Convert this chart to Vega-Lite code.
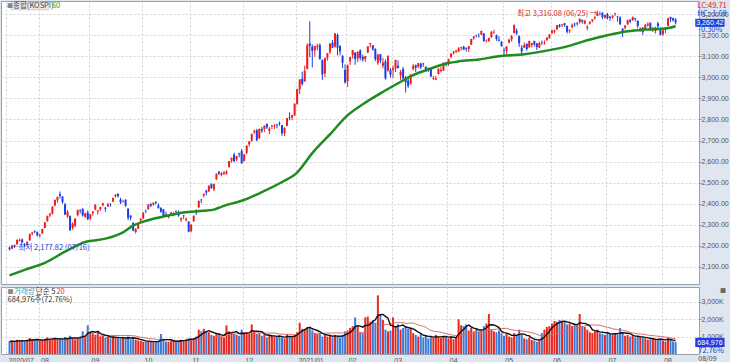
{
"$schema":"https://vega.github.io/schema/vega-lite/v6.json",
"padding":0,
"spacing":1,
"datasets":{
"k":[
{"d":"2020-07-16","i":0,"o":2192,"h":2196,"l":2177.82,"c":2183.8,"v":720000},
{"d":"2020-07-17","i":1,"o":2187,"h":2205,"l":2184,"c":2201.2,"v":750000},
{"d":"2020-07-20","i":2,"o":2203,"h":2206,"l":2190,"c":2198.2,"v":700000},
{"d":"2020-07-21","i":3,"o":2207,"h":2230,"l":2205,"c":2228.7,"v":820000},
{"d":"2020-07-22","i":4,"o":2225,"h":2234,"l":2220,"c":2228.3,"v":780000},
{"d":"2020-07-23","i":5,"o":2230,"h":2235,"l":2212,"c":2216.2,"v":740000},
{"d":"2020-07-24","i":6,"o":2206,"h":2212,"l":2195,"c":2200.4,"v":720000},
{"d":"2020-07-27","i":7,"o":2203,"h":2221,"l":2200,"c":2217.9,"v":800000},
{"d":"2020-07-28","i":8,"o":2226,"h":2258,"l":2224,"c":2256.0,"v":920000},
{"d":"2020-07-29","i":9,"o":2258,"h":2266,"l":2250,"c":2263.2,"v":850000},
{"d":"2020-07-30","i":10,"o":2270,"h":2274,"l":2260,"c":2267.0,"v":800000},
{"d":"2020-07-31","i":11,"o":2265,"h":2268,"l":2244,"c":2249.4,"v":780000},
{"d":"2020-08-03","i":12,"o":2247,"h":2258,"l":2240,"c":2251.0,"v":750000},
{"d":"2020-08-04","i":13,"o":2259,"h":2281,"l":2256,"c":2279.9,"v":820000},
{"d":"2020-08-05","i":14,"o":2285,"h":2312,"l":2283,"c":2311.9,"v":880000},
{"d":"2020-08-06","i":15,"o":2317,"h":2343,"l":2315,"c":2342.6,"v":950000},
{"d":"2020-08-07","i":16,"o":2345,"h":2358,"l":2336,"c":2351.7,"v":860000},
{"d":"2020-08-10","i":17,"o":2353,"h":2387,"l":2349,"c":2386.4,"v":850000},
{"d":"2020-08-11","i":18,"o":2392,"h":2419,"l":2388,"c":2418.7,"v":900000},
{"d":"2020-08-12","i":19,"o":2417,"h":2433,"l":2405,"c":2432.4,"v":820000},
{"d":"2020-08-13","i":20,"o":2445,"h":2458,"l":2425,"c":2437.5,"v":920000},
{"d":"2020-08-14","i":21,"o":2434,"h":2435,"l":2400,"c":2407.5,"v":800000},
{"d":"2020-08-18","i":22,"o":2397,"h":2404,"l":2346,"c":2348.2,"v":980000},
{"d":"2020-08-19","i":23,"o":2339,"h":2370,"l":2333,"c":2360.5,"v":850000},
{"d":"2020-08-20","i":24,"o":2341,"h":2345,"l":2270,"c":2274.2,"v":1050000},
{"d":"2020-08-21","i":25,"o":2286,"h":2311,"l":2276,"c":2304.6,"v":900000},
{"d":"2020-08-24","i":26,"o":2296,"h":2330,"l":2288,"c":2329.8,"v":820000},
{"d":"2020-08-25","i":27,"o":2346,"h":2372,"l":2340,"c":2369.4,"v":950000},
{"d":"2020-08-26","i":28,"o":2369,"h":2374,"l":2353,"c":2366.7,"v":1000000},
{"d":"2020-08-27","i":29,"o":2374,"h":2380,"l":2339,"c":2344.5,"v":1300000},
{"d":"2020-08-28","i":30,"o":2338,"h":2357,"l":2333,"c":2353.8,"v":1050000},
{"d":"2020-08-31","i":31,"o":2359,"h":2368,"l":2322,"c":2326.2,"v":1650000},
{"d":"2020-09-01","i":32,"o":2330,"h":2350,"l":2320,"c":2349.6,"v":1250000},
{"d":"2020-09-02","i":33,"o":2355,"h":2365,"l":2343,"c":2363.2,"v":1200000},
{"d":"2020-09-03","i":34,"o":2372,"h":2396,"l":2369,"c":2395.9,"v":1100000},
{"d":"2020-09-04","i":35,"o":2363,"h":2370,"l":2348,"c":2368.3,"v":1300000},
{"d":"2020-09-07","i":36,"o":2373,"h":2386,"l":2366,"c":2384.5,"v":1000000},
{"d":"2020-09-08","i":37,"o":2393,"h":2404,"l":2387,"c":2401.9,"v":1050000},
{"d":"2020-09-09","i":38,"o":2381,"h":2384,"l":2362,"c":2375.8,"v":950000},
{"d":"2020-09-10","i":39,"o":2387,"h":2404,"l":2384,"c":2396.5,"v":1000000},
{"d":"2020-09-11","i":40,"o":2399,"h":2402,"l":2385,"c":2396.5,"v":900000},
{"d":"2020-09-14","i":41,"o":2410,"h":2428,"l":2408,"c":2427.7,"v":1000000},
{"d":"2020-09-15","i":42,"o":2435,"h":2444,"l":2430,"c":2443.6,"v":950000},
{"d":"2020-09-16","i":43,"o":2447,"h":2449,"l":2429,"c":2435.9,"v":920000},
{"d":"2020-09-17","i":44,"o":2420,"h":2428,"l":2398,"c":2406.8,"v":880000},
{"d":"2020-09-18","i":45,"o":2411,"h":2419,"l":2405,"c":2412.4,"v":950000},
{"d":"2020-09-21","i":46,"o":2418,"h":2422,"l":2386,"c":2389.4,"v":900000},
{"d":"2020-09-22","i":47,"o":2376,"h":2379,"l":2322,"c":2333.2,"v":1000000},
{"d":"2020-09-23","i":48,"o":2344,"h":2345,"l":2321,"c":2333.0,"v":850000},
{"d":"2020-09-24","i":49,"o":2309,"h":2312,"l":2269,"c":2272.7,"v":950000},
{"d":"2020-09-25","i":50,"o":2266,"h":2284,"l":2258,"c":2278.8,"v":820000},
{"d":"2020-09-28","i":51,"o":2282,"h":2311,"l":2280,"c":2308.1,"v":780000},
{"d":"2020-09-29","i":52,"o":2320,"h":2331,"l":2310,"c":2327.9,"v":750000},
{"d":"2020-10-05","i":53,"o":2330,"h":2359,"l":2328,"c":2358.0,"v":700000},
{"d":"2020-10-06","i":54,"o":2368,"h":2372,"l":2355,"c":2365.9,"v":720000},
{"d":"2020-10-07","i":55,"o":2374,"h":2398,"l":2371,"c":2395.9,"v":750000},
{"d":"2020-10-08","i":56,"o":2399,"h":2402,"l":2384,"c":2391.0,"v":700000},
{"d":"2020-10-12","i":57,"o":2396,"h":2408,"l":2391,"c":2403.2,"v":680000},
{"d":"2020-10-13","i":58,"o":2408,"h":2412,"l":2396,"c":2403.7,"v":720000},
{"d":"2020-10-14","i":59,"o":2392,"h":2401,"l":2376,"c":2380.5,"v":750000},
{"d":"2020-10-15","i":60,"o":2379,"h":2384,"l":2358,"c":2361.2,"v":1150000},
{"d":"2020-10-16","i":61,"o":2373,"h":2374,"l":2340,"c":2341.5,"v":800000},
{"d":"2020-10-19","i":62,"o":2350,"h":2362,"l":2342,"c":2346.7,"v":720000},
{"d":"2020-10-20","i":63,"o":2336,"h":2350,"l":2330,"c":2341.4,"v":700000},
{"d":"2020-10-21","i":64,"o":2349,"h":2360,"l":2345,"c":2358.4,"v":740000},
{"d":"2020-10-22","i":65,"o":2350,"h":2360,"l":2340,"c":2355.1,"v":780000},
{"d":"2020-10-23","i":66,"o":2365,"h":2367,"l":2351,"c":2360.8,"v":700000},
{"d":"2020-10-26","i":67,"o":2360,"h":2368,"l":2338,"c":2343.9,"v":750000},
{"d":"2020-10-27","i":68,"o":2324,"h":2336,"l":2313,"c":2330.8,"v":820000},
{"d":"2020-10-28","i":69,"o":2340,"h":2346,"l":2327,"c":2345.3,"v":780000},
{"d":"2020-10-29","i":70,"o":2322,"h":2336,"l":2315,"c":2326.7,"v":850000},
{"d":"2020-10-30","i":71,"o":2315,"h":2316,"l":2264,"c":2267.2,"v":900000},
{"d":"2020-11-02","i":72,"o":2270,"h":2303,"l":2264,"c":2300.2,"v":880000},
{"d":"2020-11-03","i":73,"o":2318,"h":2343,"l":2313,"c":2343.3,"v":900000},
{"d":"2020-11-04","i":74,"o":2365,"h":2374,"l":2346,"c":2357.3,"v":1000000},
{"d":"2020-11-05","i":75,"o":2383,"h":2414,"l":2379,"c":2413.8,"v":1400000},
{"d":"2020-11-06","i":76,"o":2419,"h":2423,"l":2402,"c":2416.5,"v":1300000},
{"d":"2020-11-09","i":77,"o":2439,"h":2448,"l":2430,"c":2447.2,"v":1450000},
{"d":"2020-11-10","i":78,"o":2462,"h":2466,"l":2440,"c":2452.8,"v":1300000},
{"d":"2020-11-11","i":79,"o":2459,"h":2486,"l":2455,"c":2485.9,"v":1250000},
{"d":"2020-11-12","i":80,"o":2493,"h":2497,"l":2470,"c":2475.6,"v":1100000},
{"d":"2020-11-13","i":81,"o":2468,"h":2494,"l":2460,"c":2493.9,"v":1050000},
{"d":"2020-11-16","i":82,"o":2516,"h":2543,"l":2513,"c":2543.0,"v":1200000},
{"d":"2020-11-17","i":83,"o":2553,"h":2554,"l":2535,"c":2543.0,"v":1150000},
{"d":"2020-11-18","i":84,"o":2537,"h":2550,"l":2530,"c":2545.6,"v":1000000},
{"d":"2020-11-19","i":85,"o":2541,"h":2556,"l":2536,"c":2547.4,"v":950000},
{"d":"2020-11-20","i":86,"o":2542,"h":2558,"l":2539,"c":2553.5,"v":1650000},
{"d":"2020-11-23","i":87,"o":2575,"h":2603,"l":2570,"c":2602.6,"v":1300000},
{"d":"2020-11-24","i":88,"o":2604,"h":2619,"l":2595,"c":2617.8,"v":1250000},
{"d":"2020-11-25","i":89,"o":2633,"h":2642,"l":2597,"c":2601.5,"v":1150000},
{"d":"2020-11-26","i":90,"o":2610,"h":2627,"l":2602,"c":2625.9,"v":1100000},
{"d":"2020-11-27","i":91,"o":2638,"h":2642,"l":2620,"c":2633.5,"v":1050000},
{"d":"2020-11-30","i":92,"o":2650,"h":2660,"l":2591,"c":2591.3,"v":1400000},
{"d":"2020-12-01","i":93,"o":2603,"h":2635,"l":2600,"c":2634.3,"v":1200000},
{"d":"2020-12-02","i":94,"o":2642,"h":2676,"l":2634,"c":2675.9,"v":1250000},
{"d":"2020-12-03","i":95,"o":2682,"h":2697,"l":2671,"c":2696.2,"v":1150000},
{"d":"2020-12-04","i":96,"o":2699,"h":2732,"l":2695,"c":2731.5,"v":1700000},
{"d":"2020-12-07","i":97,"o":2740,"h":2752,"l":2731,"c":2745.4,"v":1300000},
{"d":"2020-12-08","i":98,"o":2749,"h":2755,"l":2697,"c":2700.9,"v":1150000},
{"d":"2020-12-09","i":99,"o":2711,"h":2756,"l":2707,"c":2755.5,"v":1200000},
{"d":"2020-12-10","i":100,"o":2755,"h":2764,"l":2736,"c":2746.0,"v":1050000},
{"d":"2020-12-11","i":101,"o":2755,"h":2772,"l":2740,"c":2770.1,"v":1100000},
{"d":"2020-12-14","i":102,"o":2779,"h":2781,"l":2755,"c":2762.2,"v":950000},
{"d":"2020-12-15","i":103,"o":2746,"h":2764,"l":2730,"c":2756.8,"v":1100000},
{"d":"2020-12-16","i":104,"o":2768,"h":2773,"l":2755,"c":2771.8,"v":1050000},
{"d":"2020-12-17","i":105,"o":2767,"h":2778,"l":2755,"c":2770.4,"v":1000000},
{"d":"2020-12-18","i":106,"o":2776,"h":2779,"l":2758,"c":2772.2,"v":950000},
{"d":"2020-12-21","i":107,"o":2782,"h":2790,"l":2770,"c":2778.6,"v":1050000},
{"d":"2020-12-22","i":108,"o":2773,"h":2774,"l":2722,"c":2733.7,"v":950000},
{"d":"2020-12-23","i":109,"o":2736,"h":2763,"l":2721,"c":2759.8,"v":900000},
{"d":"2020-12-24","i":110,"o":2770,"h":2807,"l":2768,"c":2806.9,"v":1150000},
{"d":"2020-12-28","i":111,"o":2812,"h":2834,"l":2796,"c":2808.6,"v":1000000},
{"d":"2020-12-29","i":112,"o":2810,"h":2822,"l":2797,"c":2820.5,"v":950000},
{"d":"2020-12-30","i":113,"o":2820,"h":2878,"l":2817,"c":2873.5,"v":1100000},
{"d":"2021-01-04","i":114,"o":2874,"h":2946,"l":2869,"c":2944.5,"v":1250000},
{"d":"2021-01-05","i":115,"o":2943,"h":2990,"l":2921,"c":2990.6,"v":1800000},
{"d":"2021-01-06","i":116,"o":2993,"h":3027,"l":2961,"c":2968.2,"v":1450000},
{"d":"2021-01-07","i":117,"o":2980,"h":3055,"l":2980,"c":3031.7,"v":1400000},
{"d":"2021-01-08","i":118,"o":3040,"h":3161,"l":3038,"c":3152.2,"v":1550000},
{"d":"2021-01-11","i":119,"o":3161,"h":3266,"l":3096,"c":3148.5,"v":1500000},
{"d":"2021-01-12","i":120,"o":3146,"h":3157,"l":3047,"c":3125.9,"v":1350000},
{"d":"2021-01-13","i":121,"o":3128,"h":3150,"l":3098,"c":3148.3,"v":1200000},
{"d":"2021-01-14","i":122,"o":3145,"h":3159,"l":3128,"c":3149.9,"v":1150000},
{"d":"2021-01-15","i":123,"o":3153,"h":3162,"l":3085,"c":3085.9,"v":1200000},
{"d":"2021-01-18","i":124,"o":3081,"h":3086,"l":2988,"c":3013.9,"v":1000000},
{"d":"2021-01-19","i":125,"o":3019,"h":3093,"l":3001,"c":3092.7,"v":1100000},
{"d":"2021-01-20","i":126,"o":3091,"h":3115,"l":3079,"c":3114.6,"v":1000000},
{"d":"2021-01-21","i":127,"o":3119,"h":3161,"l":3111,"c":3160.8,"v":1050000},
{"d":"2021-01-22","i":128,"o":3165,"h":3177,"l":3140,"c":3140.6,"v":950000},
{"d":"2021-01-25","i":129,"o":3146,"h":3209,"l":3141,"c":3208.9,"v":1100000},
{"d":"2021-01-26","i":130,"o":3201,"h":3209,"l":3104,"c":3140.3,"v":1050000},
{"d":"2021-01-27","i":131,"o":3148,"h":3153,"l":3104,"c":3122.6,"v":950000},
{"d":"2021-01-28","i":132,"o":3101,"h":3106,"l":3045,"c":3069.1,"v":1100000},
{"d":"2021-01-29","i":133,"o":3035,"h":3062,"l":2970,"c":2976.2,"v":1300000},
{"d":"2021-02-01","i":134,"o":2982,"h":3062,"l":2955,"c":3056.5,"v":1350000},
{"d":"2021-02-02","i":135,"o":3076,"h":3097,"l":3059,"c":3096.8,"v":1500000},
{"d":"2021-02-03","i":136,"o":3106,"h":3130,"l":3089,"c":3129.7,"v":1600000},
{"d":"2021-02-04","i":137,"o":3117,"h":3120,"l":3060,"c":3087.6,"v":2100000},
{"d":"2021-02-05","i":138,"o":3089,"h":3124,"l":3072,"c":3120.6,"v":1550000},
{"d":"2021-02-08","i":139,"o":3128,"h":3133,"l":3080,"c":3092.7,"v":1250000},
{"d":"2021-02-09","i":140,"o":3097,"h":3108,"l":3075,"c":3084.7,"v":1200000},
{"d":"2021-02-10","i":141,"o":3087,"h":3101,"l":3073,"c":3100.6,"v":2100000},
{"d":"2021-02-15","i":142,"o":3118,"h":3147,"l":3115,"c":3147.0,"v":2150000},
{"d":"2021-02-16","i":143,"o":3158,"h":3164,"l":3142,"c":3163.3,"v":1850000},
{"d":"2021-02-17","i":144,"o":3152,"h":3153,"l":3126,"c":3133.7,"v":1950000},
{"d":"2021-02-18","i":145,"o":3135,"h":3138,"l":3077,"c":3086.7,"v":1800000},
{"d":"2021-02-19","i":146,"o":3069,"h":3112,"l":3059,"c":3107.6,"v":3370000},
{"d":"2021-02-22","i":147,"o":3110,"h":3111,"l":3067,"c":3079.8,"v":2300000},
{"d":"2021-02-23","i":148,"o":3055,"h":3092,"l":3043,"c":3070.1,"v":1950000},
{"d":"2021-02-24","i":149,"o":3075,"h":3085,"l":2989,"c":2994.9,"v":1400000},
{"d":"2021-02-25","i":150,"o":3032,"h":3105,"l":3027,"c":3099.7,"v":1300000},
{"d":"2021-02-26","i":151,"o":3035,"h":3044,"l":2999,"c":3012.9,"v":1350000},
{"d":"2021-03-02","i":152,"o":3035,"h":3056,"l":2998,"c":3043.5,"v":2100000},
{"d":"2021-03-03","i":153,"o":3042,"h":3083,"l":3025,"c":3082.9,"v":1600000},
{"d":"2021-03-04","i":154,"o":3055,"h":3081,"l":3043,"c":3043.9,"v":1700000},
{"d":"2021-03-05","i":155,"o":3009,"h":3035,"l":2988,"c":3026.3,"v":1400000},
{"d":"2021-03-08","i":156,"o":3040,"h":3049,"l":2990,"c":2996.1,"v":1500000},
{"d":"2021-03-09","i":157,"o":2999,"h":3007,"l":2928,"c":2976.1,"v":1550000},
{"d":"2021-03-10","i":158,"o":2985,"h":2998,"l":2950,"c":2958.1,"v":1450000},
{"d":"2021-03-11","i":159,"o":2970,"h":3014,"l":2965,"c":3013.7,"v":1500000},
{"d":"2021-03-12","i":160,"o":3040,"h":3064,"l":3033,"c":3054.4,"v":1200000},
{"d":"2021-03-15","i":161,"o":3057,"h":3061,"l":3025,"c":3045.7,"v":1100000},
{"d":"2021-03-16","i":162,"o":3051,"h":3067,"l":3044,"c":3067.2,"v":1000000},
{"d":"2021-03-17","i":163,"o":3065,"h":3070,"l":3040,"c":3047.5,"v":1150000},
{"d":"2021-03-18","i":164,"o":3068,"h":3069,"l":3050,"c":3066.0,"v":950000},
{"d":"2021-03-19","i":165,"o":3048,"h":3054,"l":3026,"c":3039.5,"v":1050000},
{"d":"2021-03-22","i":166,"o":3042,"h":3046,"l":3026,"c":3035.5,"v":900000},
{"d":"2021-03-23","i":167,"o":3043,"h":3045,"l":3002,"c":3004.7,"v":1000000},
{"d":"2021-03-24","i":168,"o":2992,"h":3007,"l":2988,"c":2996.4,"v":950000},
{"d":"2021-03-25","i":169,"o":2989,"h":3007,"l":2987,"c":2995.0,"v":1100000},
{"d":"2021-03-26","i":170,"o":3016,"h":3042,"l":3013,"c":3041.0,"v":980000},
{"d":"2021-03-29","i":171,"o":3030,"h":3050,"l":3024,"c":3036.0,"v":920000},
{"d":"2021-03-30","i":172,"o":3032,"h":3070,"l":3030,"c":3070.0,"v":1050000},
{"d":"2021-03-31","i":173,"o":3065,"h":3074,"l":3052,"c":3061.4,"v":1000000},
{"d":"2021-04-01","i":174,"o":3064,"h":3088,"l":3055,"c":3087.4,"v":900000},
{"d":"2021-04-02","i":175,"o":3097,"h":3113,"l":3090,"c":3112.8,"v":1000000},
{"d":"2021-04-05","i":176,"o":3115,"h":3126,"l":3108,"c":3120.8,"v":850000},
{"d":"2021-04-06","i":177,"o":3122,"h":3131,"l":3115,"c":3127.1,"v":950000},
{"d":"2021-04-07","i":178,"o":3122,"h":3144,"l":3120,"c":3137.4,"v":2000000},
{"d":"2021-04-08","i":179,"o":3139,"h":3145,"l":3128,"c":3143.3,"v":1650000},
{"d":"2021-04-09","i":180,"o":3146,"h":3150,"l":3130,"c":3131.9,"v":1600000},
{"d":"2021-04-12","i":181,"o":3140,"h":3142,"l":3122,"c":3135.6,"v":1700000},
{"d":"2021-04-13","i":182,"o":3134,"h":3149,"l":3120,"c":3148.3,"v":1350000},
{"d":"2021-04-14","i":183,"o":3156,"h":3183,"l":3153,"c":3182.4,"v":1500000},
{"d":"2021-04-15","i":184,"o":3186,"h":3195,"l":3178,"c":3194.3,"v":1300000},
{"d":"2021-04-16","i":185,"o":3200,"h":3203,"l":3190,"c":3198.8,"v":1450000},
{"d":"2021-04-19","i":186,"o":3199,"h":3209,"l":3189,"c":3198.2,"v":1300000},
{"d":"2021-04-20","i":187,"o":3203,"h":3222,"l":3200,"c":3220.7,"v":1350000},
{"d":"2021-04-21","i":188,"o":3208,"h":3211,"l":3170,"c":3171.7,"v":1600000},
{"d":"2021-04-22","i":189,"o":3176,"h":3180,"l":3165,"c":3177.5,"v":1750000},
{"d":"2021-04-23","i":190,"o":3173,"h":3189,"l":3168,"c":3186.1,"v":2300000},
{"d":"2021-04-26","i":191,"o":3191,"h":3218,"l":3187,"c":3217.5,"v":1400000},
{"d":"2021-04-27","i":192,"o":3213,"h":3226,"l":3207,"c":3215.4,"v":1300000},
{"d":"2021-04-28","i":193,"o":3200,"h":3203,"l":3173,"c":3181.5,"v":1250000},
{"d":"2021-04-29","i":194,"o":3179,"h":3195,"l":3170,"c":3174.1,"v":1350000},
{"d":"2021-04-30","i":195,"o":3168,"h":3173,"l":3147,"c":3147.9,"v":1200000},
{"d":"2021-05-03","i":196,"o":3130,"h":3141,"l":3106,"c":3127.2,"v":1050000},
{"d":"2021-05-04","i":197,"o":3125,"h":3148,"l":3110,"c":3147.4,"v":1150000},
{"d":"2021-05-06","i":198,"o":3165,"h":3183,"l":3162,"c":3178.7,"v":1000000},
{"d":"2021-05-07","i":199,"o":3180,"h":3200,"l":3170,"c":3197.2,"v":950000},
{"d":"2021-05-10","i":200,"o":3211,"h":3250,"l":3208,"c":3249.3,"v":1200000},
{"d":"2021-05-11","i":201,"o":3221,"h":3232,"l":3200,"c":3209.4,"v":1100000},
{"d":"2021-05-12","i":202,"o":3195,"h":3200,"l":3145,"c":3161.7,"v":1400000},
{"d":"2021-05-13","i":203,"o":3141,"h":3153,"l":3103,"c":3122.1,"v":1100000},
{"d":"2021-05-14","i":204,"o":3141,"h":3166,"l":3140,"c":3153.3,"v":900000},
{"d":"2021-05-17","i":205,"o":3160,"h":3160,"l":3126,"c":3134.5,"v":850000},
{"d":"2021-05-18","i":206,"o":3143,"h":3174,"l":3140,"c":3173.1,"v":950000},
{"d":"2021-05-20","i":207,"o":3154,"h":3164,"l":3142,"c":3162.3,"v":800000},
{"d":"2021-05-21","i":208,"o":3173,"h":3174,"l":3147,"c":3156.4,"v":780000},
{"d":"2021-05-24","i":209,"o":3162,"h":3163,"l":3130,"c":3144.3,"v":700000},
{"d":"2021-05-25","i":210,"o":3141,"h":3169,"l":3138,"c":3162.3,"v":820000},
{"d":"2021-05-26","i":211,"o":3167,"h":3175,"l":3153,"c":3165.5,"v":1200000},
{"d":"2021-05-27","i":212,"o":3161,"h":3176,"l":3155,"c":3165.2,"v":1400000},
{"d":"2021-05-28","i":213,"o":3178,"h":3191,"l":3172,"c":3188.7,"v":1550000},
{"d":"2021-05-31","i":214,"o":3187,"h":3206,"l":3183,"c":3203.9,"v":1600000},
{"d":"2021-06-01","i":215,"o":3211,"h":3227,"l":3206,"c":3221.8,"v":1750000},
{"d":"2021-06-02","i":216,"o":3218,"h":3226,"l":3209,"c":3224.2,"v":1900000},
{"d":"2021-06-03","i":217,"o":3229,"h":3249,"l":3224,"c":3247.4,"v":1850000},
{"d":"2021-06-04","i":218,"o":3249,"h":3253,"l":3236,"c":3240.1,"v":1950000},
{"d":"2021-06-07","i":219,"o":3248,"h":3253,"l":3238,"c":3252.1,"v":1900000},
{"d":"2021-06-08","i":220,"o":3257,"h":3258,"l":3240,"c":3247.8,"v":1800000},
{"d":"2021-06-09","i":221,"o":3245,"h":3245,"l":3208,"c":3216.2,"v":1700000},
{"d":"2021-06-10","i":222,"o":3220,"h":3228,"l":3210,"c":3224.0,"v":1750000},
{"d":"2021-06-11","i":223,"o":3239,"h":3255,"l":3232,"c":3249.3,"v":1600000},
{"d":"2021-06-14","i":224,"o":3255,"h":3259,"l":3240,"c":3252.1,"v":1700000},
{"d":"2021-06-15","i":225,"o":3257,"h":3263,"l":3246,"c":3254.4,"v":1650000},
{"d":"2021-06-16","i":226,"o":3262,"h":3279,"l":3256,"c":3278.7,"v":2300000},
{"d":"2021-06-17","i":227,"o":3272,"h":3275,"l":3255,"c":3264.9,"v":1600000},
{"d":"2021-06-18","i":228,"o":3255,"h":3273,"l":3252,"c":3267.9,"v":1550000},
{"d":"2021-06-21","i":229,"o":3235,"h":3249,"l":3224,"c":3240.8,"v":1400000},
{"d":"2021-06-22","i":230,"o":3255,"h":3265,"l":3250,"c":3263.9,"v":1250000},
{"d":"2021-06-23","i":231,"o":3269,"h":3277,"l":3261,"c":3276.2,"v":1200000},
{"d":"2021-06-24","i":232,"o":3281,"h":3290,"l":3274,"c":3286.2,"v":1300000},
{"d":"2021-06-25","i":233,"o":3292,"h":3316.08,"l":3290,"c":3302.8,"v":1400000},
{"d":"2021-06-28","i":234,"o":3303,"h":3312,"l":3294,"c":3301.9,"v":1200000},
{"d":"2021-06-29","i":235,"o":3307,"h":3308,"l":3276,"c":3286.1,"v":1150000},
{"d":"2021-06-30","i":236,"o":3283,"h":3297,"l":3279,"c":3296.7,"v":1100000},
{"d":"2021-07-01","i":237,"o":3300,"h":3306,"l":3275,"c":3282.1,"v":1250000},
{"d":"2021-07-02","i":238,"o":3288,"h":3290,"l":3268,"c":3281.8,"v":1150000},
{"d":"2021-07-05","i":239,"o":3285,"h":3295,"l":3278,"c":3293.2,"v":1100000},
{"d":"2021-07-06","i":240,"o":3302,"h":3306,"l":3291,"c":3305.2,"v":1200000},
{"d":"2021-07-07","i":241,"o":3288,"h":3292,"l":3265,"c":3285.3,"v":1100000},
{"d":"2021-07-08","i":242,"o":3284,"h":3290,"l":3248,"c":3252.7,"v":1500000},
{"d":"2021-07-09","i":243,"o":3232,"h":3232,"l":3192,"c":3217.9,"v":1200000},
{"d":"2021-07-12","i":244,"o":3235,"h":3248,"l":3227,"c":3246.5,"v":1050000},
{"d":"2021-07-13","i":245,"o":3251,"h":3274,"l":3250,"c":3271.4,"v":1100000},
{"d":"2021-07-14","i":246,"o":3274,"h":3275,"l":3257,"c":3265.1,"v":1000000},
{"d":"2021-07-15","i":247,"o":3272,"h":3289,"l":3268,"c":3286.2,"v":1050000},
{"d":"2021-07-16","i":248,"o":3281,"h":3282,"l":3266,"c":3276.9,"v":950000},
{"d":"2021-07-19","i":249,"o":3269,"h":3270,"l":3234,"c":3244.0,"v":980000},
{"d":"2021-07-20","i":250,"o":3226,"h":3237,"l":3217,"c":3232.7,"v":1000000},
{"d":"2021-07-21","i":251,"o":3236,"h":3239,"l":3202,"c":3215.8,"v":950000},
{"d":"2021-07-22","i":252,"o":3227,"h":3253,"l":3226,"c":3250.2,"v":900000},
{"d":"2021-07-23","i":253,"o":3249,"h":3262,"l":3240,"c":3254.4,"v":820000},
{"d":"2021-07-26","i":254,"o":3259,"h":3261,"l":3221,"c":3224.9,"v":850000},
{"d":"2021-07-27","i":255,"o":3226,"h":3240,"l":3216,"c":3232.4,"v":880000},
{"d":"2021-07-28","i":256,"o":3220,"h":3240,"l":3208,"c":3236.9,"v":800000},
{"d":"2021-07-29","i":257,"o":3256,"h":3264,"l":3236,"c":3242.7,"v":850000},
{"d":"2021-07-30","i":258,"o":3235,"h":3236,"l":3199,"c":3202.3,"v":900000},
{"d":"2021-08-02","i":259,"o":3205,"h":3230,"l":3196,"c":3223.0,"v":780000},
{"d":"2021-08-03","i":260,"o":3227,"h":3238,"l":3210,"c":3237.1,"v":720000},
{"d":"2021-08-04","i":261,"o":3245,"h":3283,"l":3242,"c":3280.4,"v":950000},
{"d":"2021-08-05","i":262,"o":3287,"h":3288,"l":3262,"c":3276.1,"v":800000},
{"d":"2021-08-06","i":263,"o":3281,"h":3283,"l":3265,"c":3270.4,"v":720000},
{"d":"2021-08-09","i":264,"o":3274,"h":3281,"l":3251,"c":3260.42,"v":684976}
],
"ma":[
{"i":0,"v":2060},{"i":6,"v":2086},{"i":14,"v":2119},{"i":22,"v":2172},{"i":30,"v":2218},{"i":38,"v":2234},{"i":45,"v":2264},{"i":49,"v":2296},{"i":53,"v":2315},{"i":61,"v":2339},{"i":69,"v":2358},{"i":77,"v":2366},{"i":81,"v":2372},{"i":85,"v":2390},{"i":92,"v":2414},{"i":100,"v":2455},{"i":108,"v":2503},{"i":114,"v":2548},{"i":120,"v":2640},{"i":128,"v":2742},{"i":133,"v":2809},{"i":140,"v":2872},{"i":147,"v":2924},{"i":154,"v":2972},{"i":159,"v":3005},{"i":167,"v":3042},{"i":174,"v":3068},{"i":178,"v":3076},{"i":186,"v":3085},{"i":194,"v":3100},{"i":204,"v":3110},{"i":213,"v":3127},{"i":221,"v":3147},{"i":229,"v":3176},{"i":237,"v":3200},{"i":245,"v":3219},{"i":252,"v":3227},{"i":260,"v":3232},{"i":264,"v":3243}
]
},
"config":{
"background":"#dfe6ef",
"view":{"fill":"white","stroke":"#98a2ae","strokeWidth":1},
"font":"Noto Sans CJK KR",
"axis":{"labelFont":"Liberation Sans","labelFontSize":7,"labelColor":"#555555","gridColor":"#d2d2d2","gridDash":[2,2],"gridWidth":1}
},
"vconcat":[
{
"width":698,"height":283,
"encoding":{
"x":{"field":"i","type":"quantitative","scale":{"domain":[-1.4,271.3],"nice":false,"zero":false},
"axis":{"values":[-1.4,11.5,31.5,52.5,71.5,92.5,113.5,133.5,151.5,173.5,195.5,214.5,236.5,258.5],"labels":false,"ticks":false,"domain":false,"grid":true,"title":null}}
},
"layer":[
{"data":{"name":"k"},"mark":{"type":"rule","strokeWidth":1},
"encoding":{
"y":{"field":"l","type":"quantitative","scale":{"domain":[2018.7,3362.6],"nice":false,"zero":false},
"axis":{"orient":"right","values":[2100,2200,2300,2400,2500,2600,2700,2800,2900,3000,3100,3200,3300],"format":",.2f","tickSize":2,"tickColor":"#888888","labelPadding":0,"domain":false,"grid":true,"title":null,"minExtent":32,"maxExtent":32}},
"y2":{"field":"h"},
"color":{"condition":{"test":"datum.c >= datum.o","value":"#ee1c1c"},"value":"#1c3ce6"}}},
{"data":{"name":"k"},"mark":{"type":"bar","width":2},
"encoding":{
"y":{"field":"o","type":"quantitative","scale":{"domain":[2018.7,3362.6],"nice":false,"zero":false},
"axis":{"orient":"right","values":[2100,2200,2300,2400,2500,2600,2700,2800,2900,3000,3100,3200,3300],"format":",.2f","tickSize":2,"tickColor":"#888888","labelPadding":0,"domain":false,"grid":true,"title":null,"minExtent":32,"maxExtent":32}},
"y2":{"field":"c"},
"color":{"condition":{"test":"datum.c >= datum.o","value":"#ee1c1c"},"value":"#1c3ce6"}}},
{"data":{"name":"ma"},"mark":{"type":"line","color":"#1f8c1f","strokeWidth":2.5,"interpolate":"monotone"},
"encoding":{
"y":{"field":"v","type":"quantitative","scale":{"domain":[2018.7,3362.6],"nice":false,"zero":false},
"axis":{"orient":"right","values":[2100,2200,2300,2400,2500,2600,2700,2800,2900,3000,3100,3200,3300],"format":",.2f","tickSize":2,"tickColor":"#888888","labelPadding":0,"domain":false,"grid":true,"title":null,"minExtent":32,"maxExtent":32}}}},
{"data":{"values":[{"t":"최고 3,316.08 (06/25) →","x":233,"y":3303}]},"mark":{"type":"text","align":"right","baseline":"middle","fontSize":7.5,"color":"#e02020"},
"encoding":{"text":{"field":"t"},"x":{"field":"x","type":"quantitative","scale":{"domain":[-1.4,271.3],"nice":false,"zero":false},"axis":{"values":[-1.4,11.5,31.5,52.5,71.5,92.5,113.5,133.5,151.5,173.5,195.5,214.5,236.5,258.5],"labels":false,"ticks":false,"domain":false,"grid":true,"title":null}},
"y":{"field":"y","type":"quantitative","scale":{"domain":[2018.7,3362.6],"nice":false,"zero":false},
"axis":{"orient":"right","values":[2100,2200,2300,2400,2500,2600,2700,2800,2900,3000,3100,3200,3300],"format":",.2f","tickSize":2,"tickColor":"#888888","labelPadding":0,"domain":false,"grid":true,"title":null,"minExtent":32,"maxExtent":32}}}},
{"data":{"values":[{"t":"─최저 2,177.82 (07/16)","x":0.6,"y":2190}]},"mark":{"type":"text","align":"left","baseline":"middle","fontSize":7.5,"color":"#2040d8"},
"encoding":{"text":{"field":"t"},"x":{"field":"x","type":"quantitative","scale":{"domain":[-1.4,271.3],"nice":false,"zero":false},"axis":{"values":[-1.4,11.5,31.5,52.5,71.5,92.5,113.5,133.5,151.5,173.5,195.5,214.5,236.5,258.5],"labels":false,"ticks":false,"domain":false,"grid":true,"title":null}},
"y":{"field":"y","type":"quantitative","scale":{"domain":[2018.7,3362.6],"nice":false,"zero":false},
"axis":{"orient":"right","values":[2100,2200,2300,2400,2500,2600,2700,2800,2900,3000,3100,3200,3300],"format":",.2f","tickSize":2,"tickColor":"#888888","labelPadding":0,"domain":false,"grid":true,"title":null,"minExtent":32,"maxExtent":32}}}},
{"data":{"values":[{"x":0.6,"x2":15.6,"y":3357,"y2":3320}]},"mark":{"type":"rect","fill":"#e8e8e8","stroke":"#bbbbbb","strokeWidth":0.5},
"encoding":{"x":{"field":"x","type":"quantitative","scale":{"domain":[-1.4,271.3],"nice":false,"zero":false},"axis":{"values":[-1.4,11.5,31.5,52.5,71.5,92.5,113.5,133.5,151.5,173.5,195.5,214.5,236.5,258.5],"labels":false,"ticks":false,"domain":false,"grid":true,"title":null}},"x2":{"field":"x2"},
"y":{"field":"y","type":"quantitative","scale":{"domain":[2018.7,3362.6],"nice":false,"zero":false},
"axis":{"orient":"right","values":[2100,2200,2300,2400,2500,2600,2700,2800,2900,3000,3100,3200,3300],"format":",.2f","tickSize":2,"tickColor":"#888888","labelPadding":0,"domain":false,"grid":true,"title":null,"minExtent":32,"maxExtent":32}},"y2":{"field":"y2"}}},
{"data":{"values":[
{"t":"■","x":-1.0,"y":3337,"c":"#888888","s":6},
{"t":"종합(KOSPI)","x":1.4,"y":3337,"c":"#444444","s":7.5},
{"t":"60","x":16.8,"y":3337,"c":"#2a9a2a","s":7.5},
{"t":"LC:49.71","x":272.6,"y":3338,"c":"#e02020","s":7.5},
{"t":"HC:-1.68","x":272.6,"y":3303,"c":"#2040d8","s":7.5},
{"t":"-0.30%","x":273.0,"y":3225,"c":"#2040d8","s":7.5}
]},"mark":{"type":"text","align":"left","baseline":"middle"},
"encoding":{"text":{"field":"t"},"color":{"field":"c","type":"nominal","scale":null},"size":{"field":"s","type":"quantitative","scale":null},
"x":{"field":"x","type":"quantitative","scale":{"domain":[-1.4,271.3],"nice":false,"zero":false},"axis":{"values":[-1.4,11.5,31.5,52.5,71.5,92.5,113.5,133.5,151.5,173.5,195.5,214.5,236.5,258.5],"labels":false,"ticks":false,"domain":false,"grid":true,"title":null}},
"y":{"field":"y","type":"quantitative","scale":{"domain":[2018.7,3362.6],"nice":false,"zero":false},
"axis":{"orient":"right","values":[2100,2200,2300,2400,2500,2600,2700,2800,2900,3000,3100,3200,3300],"format":",.2f","tickSize":2,"tickColor":"#888888","labelPadding":0,"domain":false,"grid":true,"title":null,"minExtent":32,"maxExtent":32}}}},
{"data":{"values":[{"x":271.8,"x2":283.4,"y":3278,"y2":3240}]},"mark":{"type":"rect","fill":"#1f3fe0"},
"encoding":{"x":{"field":"x","type":"quantitative","scale":{"domain":[-1.4,271.3],"nice":false,"zero":false},"axis":{"values":[-1.4,11.5,31.5,52.5,71.5,92.5,113.5,133.5,151.5,173.5,195.5,214.5,236.5,258.5],"labels":false,"ticks":false,"domain":false,"grid":true,"title":null}},"x2":{"field":"x2"},
"y":{"field":"y","type":"quantitative","scale":{"domain":[2018.7,3362.6],"nice":false,"zero":false},
"axis":{"orient":"right","values":[2100,2200,2300,2400,2500,2600,2700,2800,2900,3000,3100,3200,3300],"format":",.2f","tickSize":2,"tickColor":"#888888","labelPadding":0,"domain":false,"grid":true,"title":null,"minExtent":32,"maxExtent":32}},"y2":{"field":"y2"}}},
{"data":{"values":[{"t":"3,260.42","x":277.6,"y":3259}]},"mark":{"type":"text","align":"center","baseline":"middle","fontSize":7,"font":"Liberation Sans","color":"white"},
"encoding":{"text":{"field":"t"},"x":{"field":"x","type":"quantitative","scale":{"domain":[-1.4,271.3],"nice":false,"zero":false},"axis":{"values":[-1.4,11.5,31.5,52.5,71.5,92.5,113.5,133.5,151.5,173.5,195.5,214.5,236.5,258.5],"labels":false,"ticks":false,"domain":false,"grid":true,"title":null}},
"y":{"field":"y","type":"quantitative","scale":{"domain":[2018.7,3362.6],"nice":false,"zero":false},
"axis":{"orient":"right","values":[2100,2200,2300,2400,2500,2600,2700,2800,2900,3000,3100,3200,3300],"format":",.2f","tickSize":2,"tickColor":"#888888","labelPadding":0,"domain":false,"grid":true,"title":null,"minExtent":32,"maxExtent":32}}}}
]
},
{
"width":698,"height":67,
"encoding":{
"x":{"field":"i","type":"quantitative","scale":{"domain":[-1.4,271.3],"nice":false,"zero":false},
"axis":{"values":[-1.4,11.5,31.5,52.5,71.5,92.5,113.5,133.5,151.5,173.5,195.5,214.5,236.5,258.5],"labelExpr":"['2020/07','08','09','10','11','12','2021/01','02','03','04','05','06','07','08'][indexof([-1.4,11.5,31.5,52.5,71.5,92.5,113.5,133.5,151.5,173.5,195.5,214.5,236.5,258.5], datum.value)]","labelAlign":"left","labelOffset":2,"labelPadding":2,"ticks":false,"domain":false,"grid":true,"title":null,"labelFlush":false,"labelOverlap":false,"labelBound":false}}
},
"layer":[
{"data":{"name":"k"},"mark":{"type":"bar","width":2},
"encoding":{
"y":{"field":"v","type":"quantitative","scale":{"domain":[0,3850000],"nice":false},
"axis":{"orient":"right","values":[1000000,2000000,3000000],"labelExpr":"format(datum.value/1000, ',') + 'K'","tickSize":2,"tickColor":"#888888","labelPadding":0,"domain":false,"grid":true,"title":null,"minExtent":32,"maxExtent":32}},
"color":{"condition":{"test":"datum.c >= datum.o","value":"#e8291f"},"value":"#3b7ad6"}}},
{"data":{"name":"k"},"transform":[{"window":[{"op":"mean","field":"v","as":"m20"}],"frame":[-19,0],"sort":[{"field":"i"}]}],
"mark":{"type":"line","color":"#e06a6a","strokeWidth":1},
"encoding":{
"y":{"field":"m20","type":"quantitative","scale":{"domain":[0,3850000],"nice":false},
"axis":{"orient":"right","values":[1000000,2000000,3000000],"labelExpr":"format(datum.value/1000, ',') + 'K'","tickSize":2,"tickColor":"#888888","labelPadding":0,"domain":false,"grid":true,"title":null,"minExtent":32,"maxExtent":32}}}},
{"data":{"name":"k"},"transform":[{"window":[{"op":"mean","field":"v","as":"m5"}],"frame":[-4,0],"sort":[{"field":"i"}]}],
"mark":{"type":"line","color":"#111111","strokeWidth":1.4},
"encoding":{
"y":{"field":"m5","type":"quantitative","scale":{"domain":[0,3850000],"nice":false},
"axis":{"orient":"right","values":[1000000,2000000,3000000],"labelExpr":"format(datum.value/1000, ',') + 'K'","tickSize":2,"tickColor":"#888888","labelPadding":0,"domain":false,"grid":true,"title":null,"minExtent":32,"maxExtent":32}}}},
{"data":{"values":[{"x":271.8,"x2":283.4,"y":930000,"y2":400000}]},"mark":{"type":"rect","fill":"#1f3fe0"},
"encoding":{"x":{"field":"x","type":"quantitative","scale":{"domain":[-1.4,271.3],"nice":false,"zero":false},"axis":{"values":[-1.4,11.5,31.5,52.5,71.5,92.5,113.5,133.5,151.5,173.5,195.5,214.5,236.5,258.5],"labelExpr":"['2020/07','08','09','10','11','12','2021/01','02','03','04','05','06','07','08'][indexof([-1.4,11.5,31.5,52.5,71.5,92.5,113.5,133.5,151.5,173.5,195.5,214.5,236.5,258.5], datum.value)]","labelAlign":"left","labelOffset":2,"labelPadding":2,"ticks":false,"domain":false,"grid":true,"title":null,"labelFlush":false,"labelOverlap":false,"labelBound":false}},"x2":{"field":"x2"},
"y":{"field":"y","type":"quantitative","scale":{"domain":[0,3850000],"nice":false},
"axis":{"orient":"right","values":[1000000,2000000,3000000],"labelExpr":"format(datum.value/1000, ',') + 'K'","tickSize":2,"tickColor":"#888888","labelPadding":0,"domain":false,"grid":true,"title":null,"minExtent":32,"maxExtent":32}},"y2":{"field":"y2"}}},
{"data":{"values":[
{"t":"■","x":-0.8,"y":3560000,"c":"#888888","s":6},
{"t":"거래량","x":1.8,"y":3560000,"c":"#3a9fb5","s":7.5},
{"t":"단순 5","x":10.4,"y":3560000,"c":"#333333","s":7.5},
{"t":"20","x":18.6,"y":3560000,"c":"#e03030","s":7.5},
{"t":"684,976주(72.76%)","x":-0.8,"y":3100000,"c":"#333333","s":7.5},
{"t":"■","x":281.6,"y":3620000,"c":"#666666","s":6},
{"t":"72.76%","x":273.0,"y":170000,"c":"#2040d8","s":7.5},
{"t":"08/09","x":273.0,"y":-260000,"c":"#444444","s":7}
]},"mark":{"type":"text","align":"left","baseline":"middle"},
"encoding":{"text":{"field":"t"},"color":{"field":"c","type":"nominal","scale":null},"size":{"field":"s","type":"quantitative","scale":null},
"x":{"field":"x","type":"quantitative","scale":{"domain":[-1.4,271.3],"nice":false,"zero":false},"axis":{"values":[-1.4,11.5,31.5,52.5,71.5,92.5,113.5,133.5,151.5,173.5,195.5,214.5,236.5,258.5],"labelExpr":"['2020/07','08','09','10','11','12','2021/01','02','03','04','05','06','07','08'][indexof([-1.4,11.5,31.5,52.5,71.5,92.5,113.5,133.5,151.5,173.5,195.5,214.5,236.5,258.5], datum.value)]","labelAlign":"left","labelOffset":2,"labelPadding":2,"ticks":false,"domain":false,"grid":true,"title":null,"labelFlush":false,"labelOverlap":false,"labelBound":false}},
"y":{"field":"y","type":"quantitative","scale":{"domain":[0,3850000],"nice":false},
"axis":{"orient":"right","values":[1000000,2000000,3000000],"labelExpr":"format(datum.value/1000, ',') + 'K'","tickSize":2,"tickColor":"#888888","labelPadding":0,"domain":false,"grid":true,"title":null,"minExtent":32,"maxExtent":32}}}},
{"data":{"values":[{"t":"684,976","x":277.6,"y":660000}]},"mark":{"type":"text","align":"center","baseline":"middle","fontSize":7,"font":"Liberation Sans","color":"white"},
"encoding":{"text":{"field":"t"},"x":{"field":"x","type":"quantitative","scale":{"domain":[-1.4,271.3],"nice":false,"zero":false},"axis":{"values":[-1.4,11.5,31.5,52.5,71.5,92.5,113.5,133.5,151.5,173.5,195.5,214.5,236.5,258.5],"labelExpr":"['2020/07','08','09','10','11','12','2021/01','02','03','04','05','06','07','08'][indexof([-1.4,11.5,31.5,52.5,71.5,92.5,113.5,133.5,151.5,173.5,195.5,214.5,236.5,258.5], datum.value)]","labelAlign":"left","labelOffset":2,"labelPadding":2,"ticks":false,"domain":false,"grid":true,"title":null,"labelFlush":false,"labelOverlap":false,"labelBound":false}},
"y":{"field":"y","type":"quantitative","scale":{"domain":[0,3850000],"nice":false},
"axis":{"orient":"right","values":[1000000,2000000,3000000],"labelExpr":"format(datum.value/1000, ',') + 'K'","tickSize":2,"tickColor":"#888888","labelPadding":0,"domain":false,"grid":true,"title":null,"minExtent":32,"maxExtent":32}}}}
]
}
]
}
